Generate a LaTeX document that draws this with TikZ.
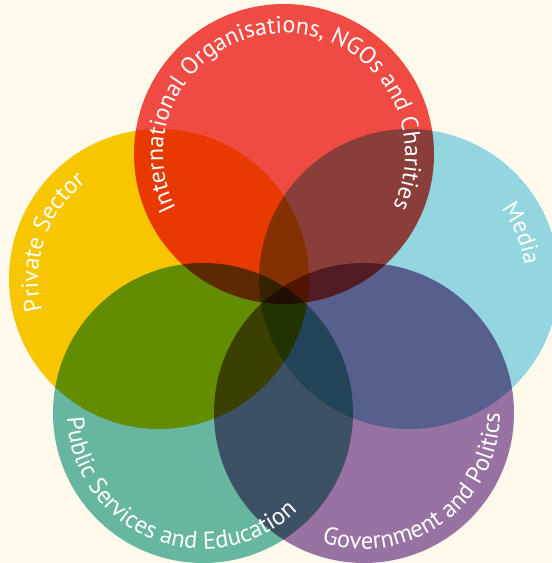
\documentclass[tikz,border=0pt]{standalone}
\usepackage{fontspec}
\setmainfont{PT Sans}
\usetikzlibrary{decorations.text}
\definecolor{bgcream}{RGB}{255,250,235}
\definecolor{intlred}{RGB}{240,75,67}
\definecolor{privyellow}{RGB}{247,198,0}
\definecolor{mediacyan}{RGB}{147,214,223}
\definecolor{pubteal}{RGB}{103,182,159}
\definecolor{govpurple}{RGB}{152,114,162}
\begin{document}
\begin{tikzpicture}[x=1pt,y=1pt,
    venn/.style={fill=#1, blend mode=multiply},
    arclabel/.style 2 args={decorate, decoration={text along path, text align=center,
        text={|\color{white}\fontsize{#1}{#1}\selectfont|#2}}}]
\fill[bgcream] (0,0) rectangle (552,563);
\useasboundingbox (0,0) rectangle (552,563);
\coordinate (intl) at (284,409);
\coordinate (priv) at (159,284);
\coordinate (media) at (409,284);
\coordinate (pub) at (203,150);
\coordinate (gov) at (364,150);
% white under the circles, so that only the circles multiply
\foreach \c in {intl,priv,media,pub,gov}
    \fill[white] (\c) circle (150);
\fill[venn=intlred] (intl) circle (150);
\fill[venn=privyellow] (priv) circle (150);
\fill[venn=mediacyan] (media) circle (150);
\fill[venn=pubteal] (pub) circle (150);
\fill[venn=govpurple] (gov) circle (150);
\path[arclabel={24}{International Organisations, NGOs and Charities}, shift={(intl)}]
    (235:121) arc[start angle=235, end angle=-54, radius=121];
\path[arclabel={24}{Private Sector}, shift={(priv)}]
    (220:121) arc[start angle=220, end angle=102, radius=121];
\path[arclabel={24}{Media}, shift={(media)}]
    (60:116) arc[start angle=60, end angle=-16, radius=116];
\path[arclabel={24.5}{Public Services and Education}, shift={(pub)}]
    (160:136) arc[start angle=160, end angle=336, radius=136];
\path[arclabel={24.5}{Government and Politics}, shift={(gov)}]
    (240:136) arc[start angle=240, end angle=372, radius=136];
\end{tikzpicture}
\end{document}
